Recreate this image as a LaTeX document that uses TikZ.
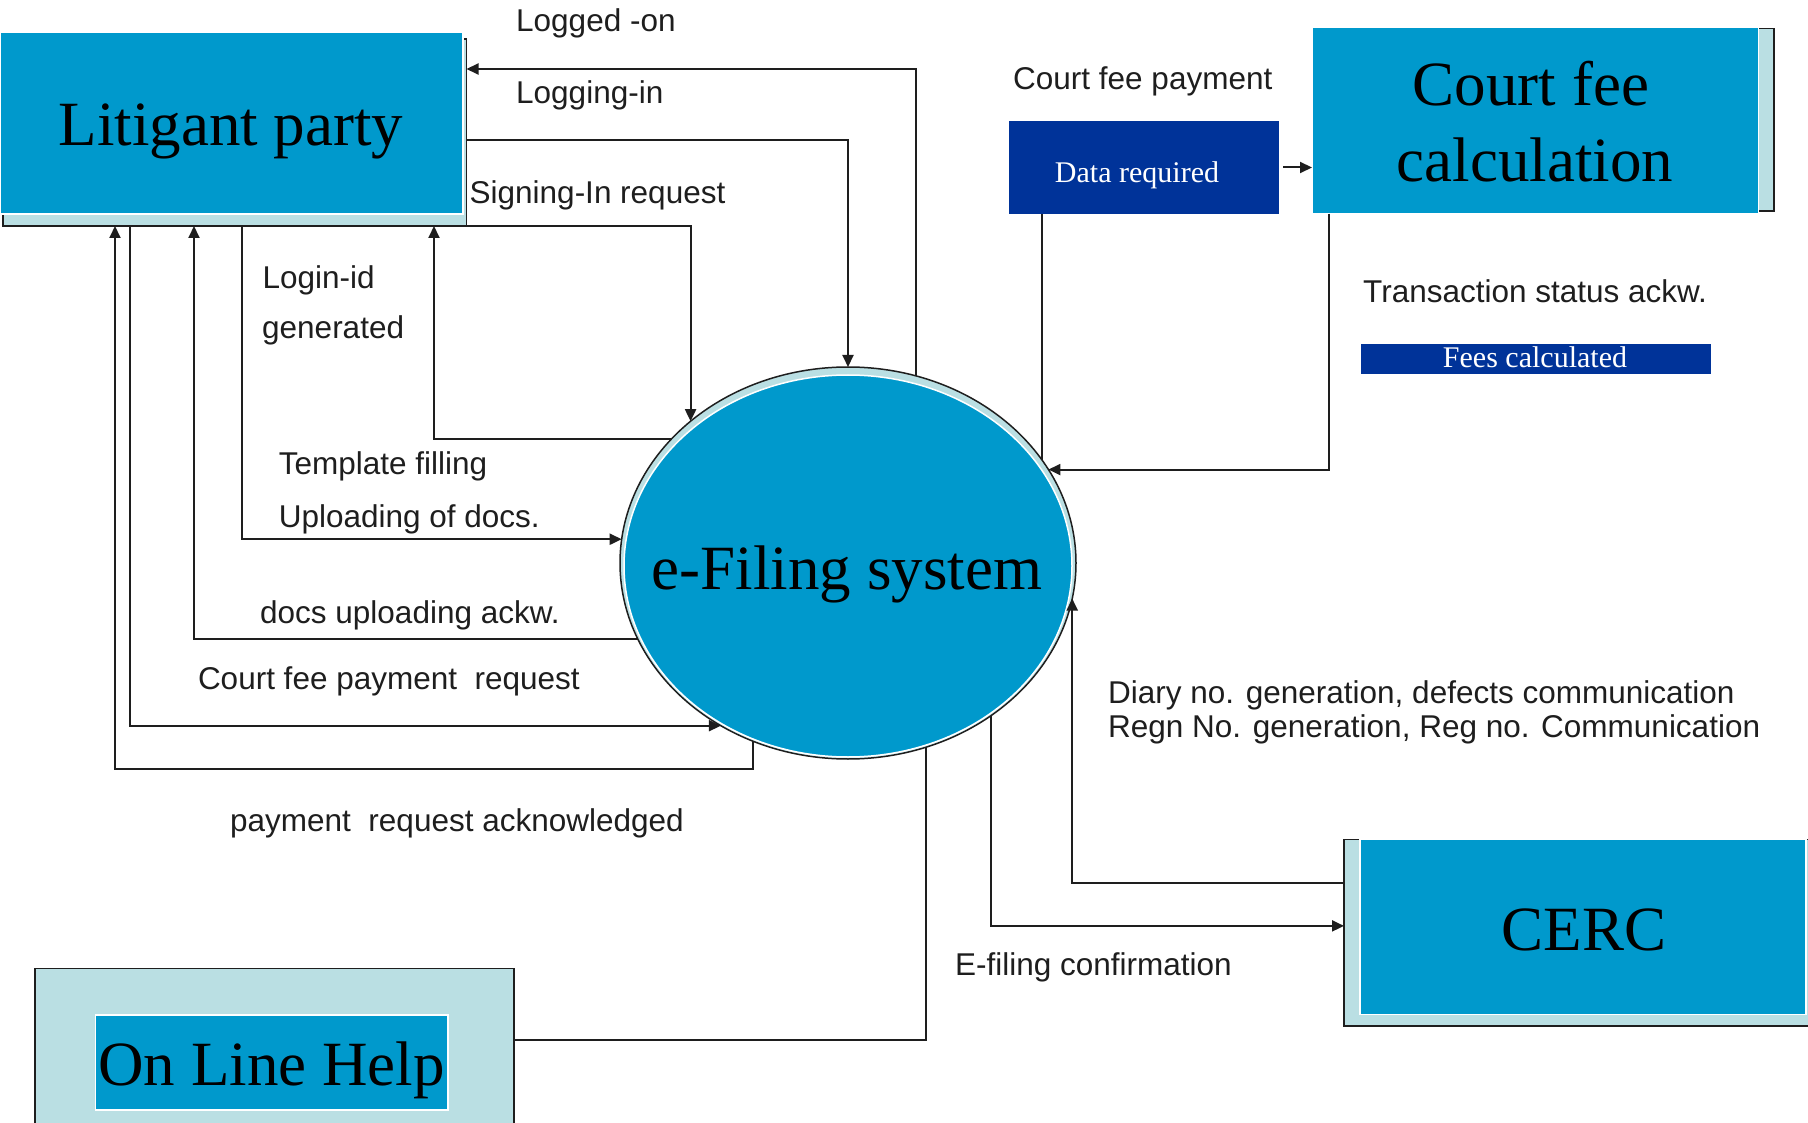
\documentclass[tikz,border=0pt]{standalone}
\usepackage{fontspec}
\setmainfont{Liberation Serif}
\newfontfamily\lsans{Liberation Sans}
\usetikzlibrary{arrows.meta,shapes.geometric}
\definecolor{efblue}{RGB}{0,153,204}
\definecolor{efdark}{RGB}{0,51,153}
\definecolor{efpale}{RGB}{186,223,227}
\definecolor{efline}{RGB}{30,30,30}
\begin{document}
\begin{tikzpicture}[x=1pt,y=-1pt,
  backbox/.style={draw=efline,fill=efpale,line width=1.5pt,inner sep=0pt,outer sep=0pt},
  frontbox/.style={draw=white,fill=efblue,line width=1.5pt,inner sep=0pt,outer sep=0pt},
  darkbox/.style={fill=efdark,inner sep=0pt,outer sep=0pt},
  bigtxt/.style={font=\fontsize{63}{70}\selectfont,inner sep=0pt,anchor=base,text=black},
  smalltxt/.style={font=\fontsize{30}{36}\selectfont,inner sep=0pt,anchor=base,text=white},
  lbl/.style={font=\lsans\fontsize{31.5}{36}\selectfont,inner sep=0pt,anchor=base west,text=efline},
  flow/.style={draw=efline,line width=2pt},
  arr/.style={flow,-{Triangle[length=12pt,width=11pt]}},
]
\useasboundingbox (0,0) rectangle (1808,1123);
\clip (0,0) rectangle (1808,1123);
\fill[white] (0,0) rectangle (1808,1123);

% ---- shapes ----
\node[backbox,rectangle,minimum width=463.5pt,minimum height=187pt] (litb) at (234.75,132.5) {};
\node[frontbox,rectangle,minimum width=463pt,minimum height=182pt] (lit) at (231.5,123) {};

\node[backbox,rectangle,minimum width=446pt,minimum height=182.5pt] (cfcb) at (1551,119.75) {};
\node[frontbox,rectangle,minimum width=446.7pt,minimum height=186.8pt] (cfc) at (1535.35,120.2) {};

\node[darkbox,rectangle,minimum width=270pt,minimum height=92.2pt] (dreq) at (1144,167.5) {};
\node[darkbox,rectangle,minimum width=349.6pt,minimum height=30pt] (fees) at (1535.8,359) {};

\node[backbox,rectangle,minimum width=486pt,minimum height=186.4pt] (cercb) at (1587,932.8) {};
\node[frontbox,rectangle,minimum width=446pt,minimum height=175.1pt] (cerc) at (1583,927.15) {};

\node[backbox,rectangle,minimum width=479pt,minimum height=171.4pt] (olhb) at (274.5,1054.3) {};
\node[frontbox,rectangle,minimum width=352.3pt,minimum height=95pt] (olh) at (271.85,1062.5) {};

\node[backbox,ellipse,minimum width=456pt,minimum height=392pt] (efb) at (848,563) {};
\node[frontbox,ellipse,minimum width=448pt,minimum height=382pt] (ef) at (848,566) {};

% ---- big texts ----
\node[bigtxt] (t-lit) at (231,146) {Litigant party};
\node[bigtxt] (t-cfc1) at (1531,105.4) {Court fee};
\node[bigtxt] (t-cfc2) at (1535,182) {calculation};
\node[bigtxt] (t-ef) at (847,589) {e-Filing system};
\node[bigtxt] (t-cerc) at (1584,950) {CERC};
\node[bigtxt] (t-olh) at (271.5,1085.7) {On Line Help};
\node[smalltxt] (t-dreq) at (1137,183) {Data required};
\node[smalltxt] (t-fees) at (1535,368) {Fees calculated};

% ---- connectors ----
\draw[arr] (efb.70.92) |- (litb.east |- 0,69);
\draw[arr] (litb.east |- 0,140.5) -| (efb.north);
\draw[arr] (litb.south east) -| (efb.138.53);
\draw[arr] (efb.145.28) -| (litb.south -| 434,0);
\draw[arr] (litb.south -| 242,0) |- (efb.174.20);
\draw[arr] (efb.200.16) -| (litb.south -| 194,0);
\draw[arr] (litb.south -| 130,0) |- (efb.232.45);
\coordinate (payc) at (115,768.6);
\draw[arr] (efb.242.09) |- (payc) -- (litb.south -| payc);
\draw[flow] (efb.28.41) -- (efb.28.41 |- dreq.south);
\draw[arr,shorten <=4pt] (dreq.east) -- (cfc.west |- dreq.east);
\draw[arr] (cfc.south -| 1328.5,0) |- (efb.25.29);
\draw[arr] (cercb.west |- 0,882.7) -| (efb.351.31);
\draw[arr] (efb.313.73) |- (cercb.west |- 0,925.9);
\draw[flow] (olhb.east |- 0,1040) -| (efb.293.73);

% ---- labels ----
\node[lbl] (l1) at (516,32) {Logged -on};
\node[lbl] (l2) at (516,103.6) {Logging-in};
\node[lbl] (l3) at (469.5,203.6) {Signing-In request};
\node[lbl] (l4) at (262.3,289) {Login-id};
\node[lbl] (l5) at (262,339) {generated};
\node[lbl] (l6) at (278.7,474) {Template filling};
\node[lbl] (l7) at (278.7,527) {Uploading of docs.};
\node[lbl] (l8) at (260,623.6) {docs uploading ackw.};
\node[lbl] (l9) at (197.8,689.4) {Court fee payment\ \ request};
\node[lbl] (l10) at (230,831.8) {payment\ \ request acknowledged};
\node[lbl] (l11) at (1013,89.3) {Court fee payment};
\node[lbl] (l12) at (1363,303) {Transaction status ackw.};
\node[lbl] (l13) at (1108,703.6) {Diary no. generation, defects communication};
\node[lbl] (l14) at (1108,737) {Regn No. generation, Reg no. Communication};
\node[lbl] (l15) at (955,975) {E-filing confirmation};
\end{tikzpicture}
\end{document}
